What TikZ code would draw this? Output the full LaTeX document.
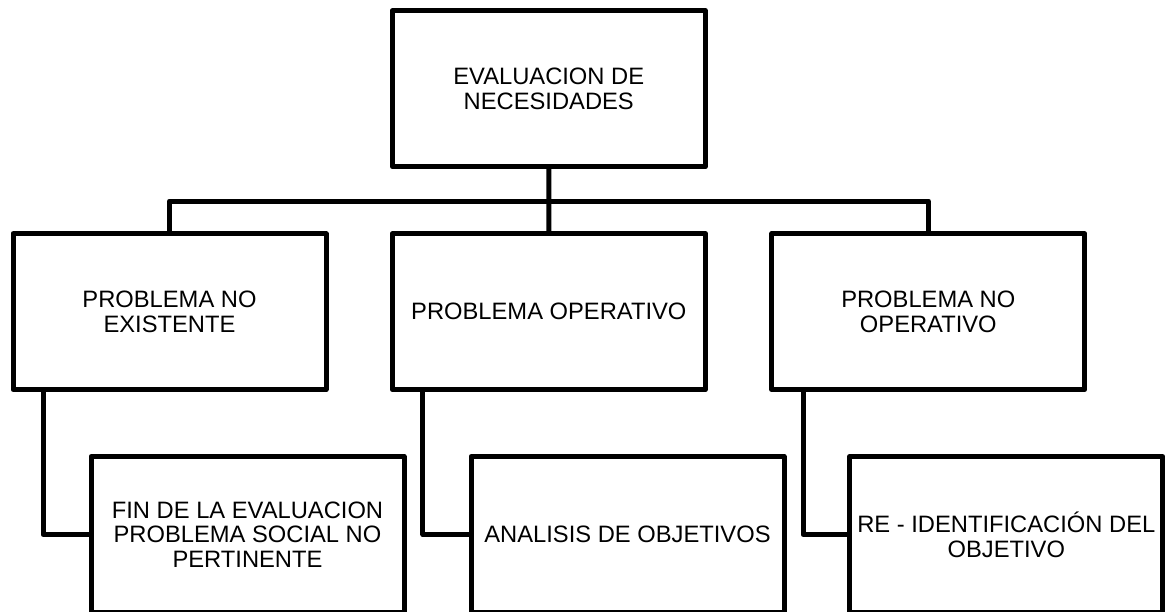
\documentclass[tikz,border=0pt]{standalone}
\usepackage{fontspec}
\setmainfont{Liberation Sans}
\begin{document}
\begin{tikzpicture}[x=0.75pt,y=-0.75pt,
  line width=3.75pt, line join=round,
  box/.style={draw=black, rectangle, minimum width=234.75pt, minimum height=117pt,
    inner sep=0pt, outer sep=0pt, align=center,
    font=\fontsize{17.8}{18.6}\selectfont},
  link/.style={draw=black, line width=3.75pt}]
\useasboundingbox (0,0) rectangle (1171,611);
\clip (0,0) rectangle (1171,611);
\node[box] (top) at (548.75,88.75) {EVALUACION DE\\NECESIDADES};
\node[box] (pne) at (169.5,311.7) {PROBLEMA NO\\EXISTENTE};
\node[box] (po) at (548.8,311.7) {PROBLEMA OPERATIVO};
\node[box] (pno) at (928.3,311.7) {PROBLEMA NO\\OPERATIVO};
\node[box] (fin) at (247.5,534.6) {FIN DE LA EVALUACION\\PROBLEMA SOCIAL NO\\PERTINENTE};
\node[box] (ana) at (627.5,534.6) {ANALISIS DE OBJETIVOS};
\node[box] (rei) at (1006.3,534.6) {RE - IDENTIFICACIÓN DEL\\OBJETIVO};
\coordinate (bus) at (548.75,201);
\draw[link] (top.south) -- (po.north);
\draw[link] (pne.north) -- (pne.north |- bus) -- (pno.north |- bus) -- (pno.north);
\draw[link] ([xshift=22.5pt]pne.south west) |- (fin.west);
\draw[link] ([xshift=23pt]po.south west) |- (ana.west);
\draw[link] ([xshift=23.5pt]pno.south west) |- (rei.west);
\end{tikzpicture}
\end{document}
